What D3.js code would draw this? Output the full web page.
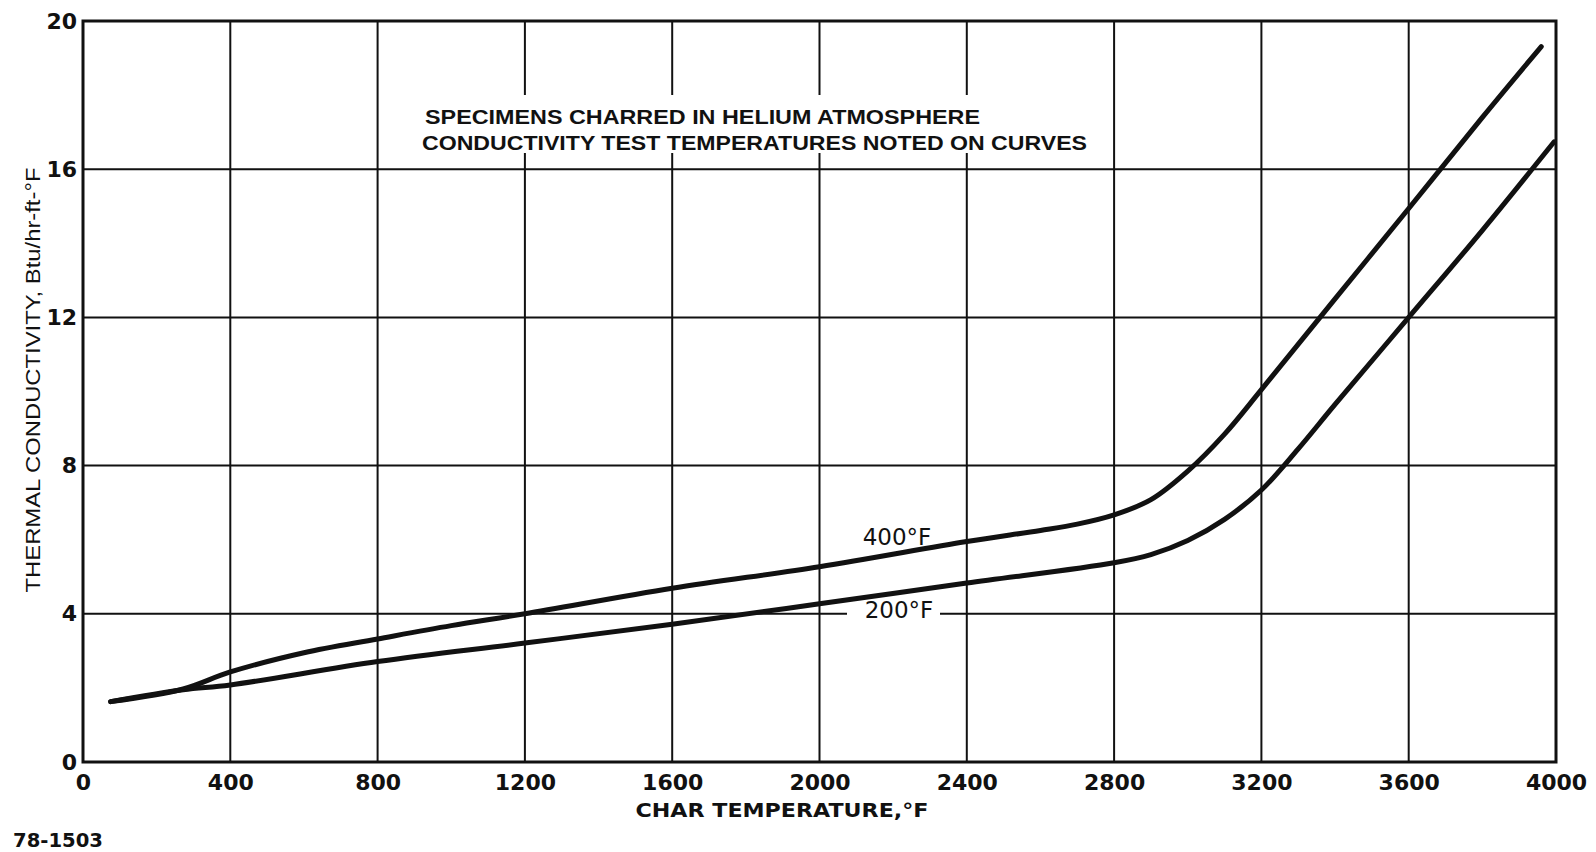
<!DOCTYPE html>
<html>
<head>
<meta charset="utf-8">
<script src="https://cdn.jsdelivr.net/npm/d3@7"></script>
<style>
  html, body { margin: 0; padding: 0; background: #fff; }
  svg { display: block; }
  text { fill: #111; }
</style>
</head>
<body>
<svg id="chart" width="1596" height="852"></svg>
<script>
// ---- data ----
const xTicks = [0, 400, 800, 1200, 1600, 2000, 2400, 2800, 3200, 3600, 4000];
const yTicks = [0, 4, 8, 12, 16, 20];

const curve400Temp = [75, 272, 400, 600, 800, 1000, 1200, 1600, 2000, 2400, 2600, 2700, 2800, 2900, 3000, 3100, 3200, 3400, 3600, 3800, 3960];
const curve400K    = [1.63, 1.97, 2.43, 2.95, 3.32, 3.68, 4.0, 4.69, 5.27, 5.95, 6.25, 6.42, 6.67, 7.08, 7.85, 8.85, 10.05, 12.5, 14.94, 17.4, 19.31];

const curve200Temp = [75, 272, 400, 800, 1200, 1600, 2000, 2400, 2800, 2900, 3000, 3100, 3200, 3300, 3400, 3600, 3800, 3995];
const curve200K    = [1.63, 1.95, 2.08, 2.71, 3.21, 3.72, 4.27, 4.83, 5.38, 5.6, 5.98, 6.55, 7.34, 8.45, 9.65, 12.0, 14.35, 16.74];

const xTitle = "CHAR TEMPERATURE,°F";
const yTitle = "THERMAL CONDUCTIVITY, Btu/hr-ft-°F";
const noteLines = ["SPECIMENS CHARRED IN HELIUM ATMOSPHERE", "CONDUCTIVITY TEST TEMPERATURES NOTED ON CURVES"];
const curveLabels = ["400°F", "200°F"];
const figId = "78-1503";

// ---- layout ----
const svg = d3.select("#chart");
const x = d3.scaleLinear().domain([0, 4000]).range([83, 1556]);
const y = d3.scaleLinear().domain([0, 20]).range([762, 21]);
const ink = "#111";
const font = "'DejaVu Sans', sans-serif";

// grid
const grid = svg.append("g").attr("stroke", ink).attr("stroke-width", 2);
grid.selectAll("line.v").data(xTicks.slice(1, -1)).join("line")
  .attr("x1", d => x(d)).attr("x2", d => x(d))
  .attr("y1", y(20)).attr("y2", y(0));
grid.selectAll("line.h").data(yTicks.slice(1, -1)).join("line")
  .attr("x1", x(0)).attr("x2", x(4000))
  .attr("y1", d => y(d)).attr("y2", d => y(d));

// white gaps behind annotation
svg.append("rect").attr("x", 412).attr("y", 95).attr("width", 690).attr("height", 58).attr("fill", "#fff");
svg.append("rect").attr("x", 847).attr("y", y(4) - 10).attr("width", 93).attr("height", 20).attr("fill", "#fff");

// frame
svg.append("rect")
  .attr("x", x(0)).attr("y", y(20))
  .attr("width", x(4000) - x(0)).attr("height", y(0) - y(20))
  .attr("fill", "none").attr("stroke", ink).attr("stroke-width", 3);

// axes tick labels
const xAxis = d3.axisBottom(x).tickValues(xTicks).tickFormat(d3.format("d")).tickSize(0).tickPadding(12);
const gx = svg.append("g").attr("transform", `translate(0,${y(0)})`).call(xAxis);
gx.select(".domain").remove();
gx.selectAll("text").attr("font-family", font).attr("font-weight", "bold").attr("font-size", 22).attr("fill", ink);

const yAxis = d3.axisLeft(y).tickValues(yTicks).tickFormat(d3.format("d")).tickSize(0).tickPadding(6);
const gy = svg.append("g").attr("transform", `translate(${x(0)},0)`).call(yAxis);
gy.select(".domain").remove();
gy.selectAll("text").attr("font-family", font).attr("font-weight", "bold").attr("font-size", 22).attr("fill", ink);

// curves
const line = d3.line().x(d => x(d[0])).y(d => y(d[1])).curve(d3.curveCatmullRom.alpha(0.5));
const s400 = curve400Temp.map((t, i) => [t, curve400K[i]]);
const s200 = curve200Temp.map((t, i) => [t, curve200K[i]]);
[s400, s200].forEach(s => {
  svg.append("path").datum(s).attr("d", line)
    .attr("fill", "none").attr("stroke", ink).attr("stroke-width", 5)
    .attr("stroke-linecap", "round").attr("stroke-linejoin", "round");
});

// curve labels
svg.append("text").attr("x", 897).attr("y", 545).attr("text-anchor", "middle")
  .attr("font-family", font).attr("font-size", 23).text(curveLabels[0]);
svg.append("text").attr("x", 899).attr("y", 618).attr("text-anchor", "middle")
  .attr("font-family", font).attr("font-size", 23).text(curveLabels[1]);

// annotation
svg.append("text").attr("x", 425).attr("y", 124)
  .attr("font-family", "'Liberation Sans', sans-serif").attr("font-weight", "bold").attr("font-size", 21)
  .attr("textLength", 555).attr("lengthAdjust", "spacingAndGlyphs").text(noteLines[0]);
svg.append("text").attr("x", 422).attr("y", 150)
  .attr("font-family", "'Liberation Sans', sans-serif").attr("font-weight", "bold").attr("font-size", 21)
  .attr("textLength", 665).attr("lengthAdjust", "spacingAndGlyphs").text(noteLines[1]);

// axis titles
svg.append("text").attr("x", 782).attr("y", 817).attr("text-anchor", "middle")
  .attr("font-family", font).attr("font-weight", "bold").attr("font-size", 20)
  .attr("textLength", 293).attr("lengthAdjust", "spacingAndGlyphs").text(xTitle);
svg.append("text").attr("transform", "translate(40,380) rotate(-90)").attr("text-anchor", "middle")
  .attr("font-family", "'Liberation Sans', sans-serif").attr("font-size", 20)
  .attr("textLength", 425).attr("lengthAdjust", "spacingAndGlyphs").text(yTitle);

// figure id
svg.append("text").attr("x", 13).attr("y", 847)
  .attr("font-family", font).attr("font-weight", "bold").attr("font-size", 20)
  .attr("textLength", 90).attr("lengthAdjust", "spacingAndGlyphs").text(figId);
</script>
</body>
</html>
